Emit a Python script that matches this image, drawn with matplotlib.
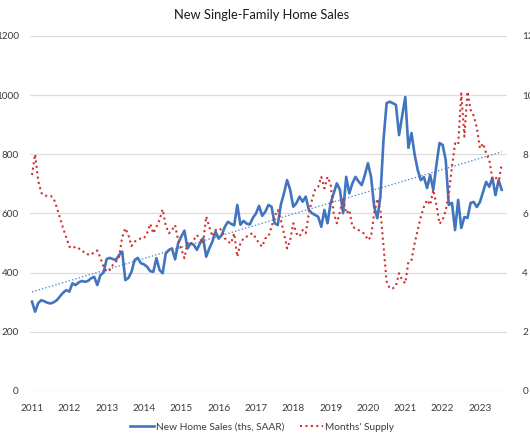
import numpy as np
import matplotlib.pyplot as plt

plt.rcParams['font.family'] = ['Lato', 'DejaVu Sans']

# monthly data, Jan 2011 - Aug 2023
sales = [
    302, 268, 297, 307, 303, 298, 296, 300, 307, 320, 332, 341,   # 2011
    336, 364, 358, 367, 372, 369, 372, 381, 386, 358, 392, 400,   # 2012
    446, 450, 446, 443, 460, 471, 375, 382, 403, 443, 450, 432,   # 2013
    428, 420, 405, 403, 449, 409, 398, 465, 477, 482, 445, 500,   # 2014
    522, 542, 482, 499, 494, 477, 499, 516, 454, 482, 505, 539,   # 2015
    515, 527, 555, 572, 565, 560, 629, 562, 575, 566, 563, 585,   # 2016
    600, 626, 592, 606, 629, 623, 567, 561, 630, 668, 713, 680,   # 2017
    623, 635, 657, 640, 657, 612, 601, 595, 589, 555, 612, 567,   # 2018
    635, 668, 702, 680, 601, 724, 668, 702, 724, 708, 696, 730,   # 2019
    770, 724, 623, 584, 657, 849, 973, 978, 973, 967, 865, 930,   # 2020
    994, 822, 872, 800, 747, 713, 723, 686, 730, 680, 764, 838,   # 2021
    832, 781, 629, 636, 544, 646, 551, 588, 585, 636, 639, 622,   # 2022
    639, 673, 707, 690, 720, 662, 713, 680,                       # 2023
]
supply = [
    7.3, 8.0, 7.1, 6.7, 6.6, 6.6, 6.6, 6.5, 6.2, 5.85, 5.5, 5.2,
    4.88, 4.82, 4.88, 4.82, 4.77, 4.65, 4.62, 4.6, 4.7, 4.75, 4.5, 4.2,
    4.03, 4.09, 4.26, 4.37, 4.54, 5.2, 5.5, 5.27, 4.9, 5.05, 5.1, 5.16,
    5.16, 5.33, 5.65, 5.33, 5.55, 5.78, 6.14, 5.6, 5.33, 5.44, 5.61, 5.1,
    4.8, 4.49, 5.0, 4.94, 5.1, 5.27, 5.16, 4.99, 5.9, 5.55, 5.22, 5.44,
    5.5, 5.44, 5.16, 5.05, 4.99, 5.33, 4.54, 4.99, 5.16, 5.22, 5.3, 5.33,
    5.16, 4.99, 4.88, 5.16, 5.22, 5.55, 5.9, 6.12, 5.78, 5.33, 4.82, 5.1,
    5.67, 5.33, 5.22, 5.44, 5.33, 6.0, 6.46, 6.8, 6.9, 7.24, 6.85, 7.24,
    7.0, 6.0, 5.67, 6.06, 6.51, 6.0, 6.12, 5.55, 5.5, 5.44, 5.38, 5.3,
    5.1, 5.22, 6.0, 6.5, 6.1, 4.88, 3.7, 3.47, 3.47, 3.55, 3.98, 3.75,
    3.64, 4.37, 4.43, 4.99, 5.44, 5.89, 6.23, 6.46, 6.29, 6.8, 6.3, 5.65,
    5.78, 6.1, 6.68, 7.58, 8.37, 8.32, 10.06, 8.6, 10.12, 9.5, 9.3, 8.9,
    8.2, 8.37, 8.04, 7.81, 7.19, 7.24, 7.02, 7.7,
]
years = [str(y) for y in range(2011, 2024)]

x = np.arange(len(sales))
txt = '#3b3b3b'

fig = plt.figure(figsize=(5.3, 4.42), dpi=100)
ax = fig.add_axes([30 / 530, 1 - 391 / 442, 477 / 530, 355 / 442])
ax2 = ax.twinx()

# linear trend of sales
k, b = np.polyfit(x, sales, 1)
ax.plot(x, k * x + b, color='#5b8fd0', lw=1.0, ls=(0, (1, 1.5)), zorder=2)
l1, = ax.plot(x, sales, color='#4275bf', lw=1.9, zorder=3,
              label='New Home Sales (ths, SAAR)')
l2, = ax2.plot(x, supply, color='#cc3333', lw=1.5, ls=(0, (1, 1.6)),
               label="Months' Supply")

ax.set_ylim(0, 1200)
ax.set_yticks(range(0, 1201, 200))
ax2.set_ylim(0, 12)
ax2.set_yticks(range(0, 13, 2))
ax.set_xlim(-0.64, 152.7)
ax.set_xticks(range(0, 145, 12))
ax.set_xticklabels(years)
ax.grid(axis='y', color='#dedede', lw=0.9)
ax.set_axisbelow(True)

for a in (ax, ax2):
    for s in a.spines.values():
        s.set_visible(False)
    a.tick_params(length=0, labelsize=7.2, colors=txt)
ax.tick_params(axis='y', pad=8)
ax.tick_params(axis='x', pad=9.5)
ax2.tick_params(axis='y', pad=11)

fig.text(0.493, 1 - 15 / 442, 'New Single-Family Home Sales',
         ha='center', va='center', fontsize=9.3, color='#1a1a1a')
fig.legend(handles=[l1, l2], loc='center', bbox_to_anchor=(0.495, 1 - 427 / 442),
           ncol=2, frameon=False, fontsize=7.3, labelcolor=txt,
           handlelength=2.3, handletextpad=0.2, columnspacing=1.6)

fig.savefig('out.png', dpi=100)
